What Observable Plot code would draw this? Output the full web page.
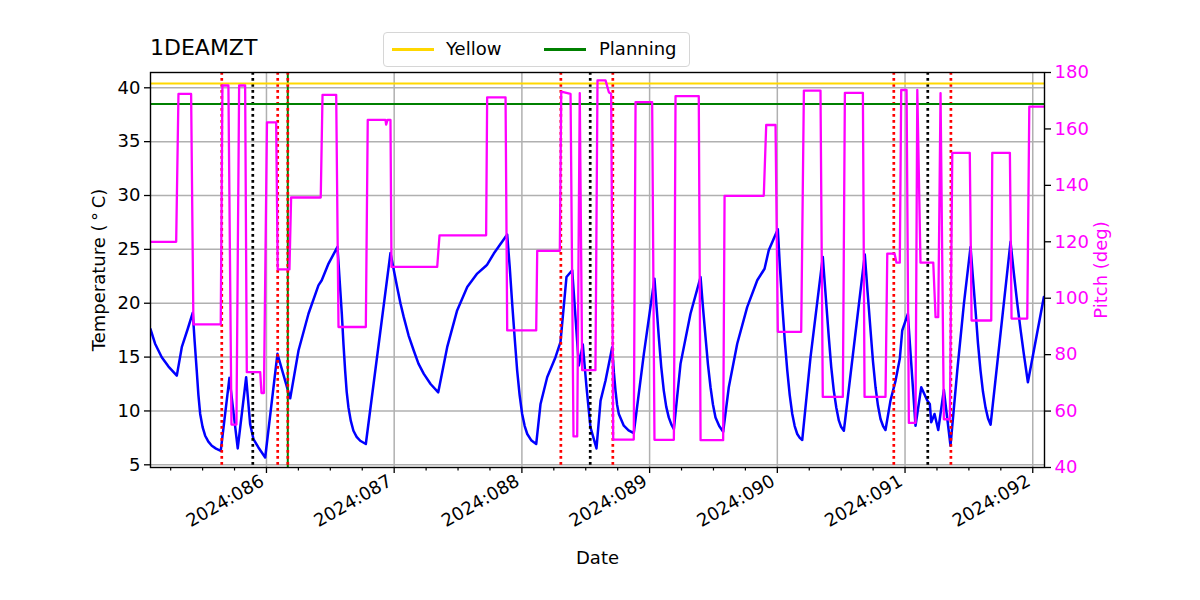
<!DOCTYPE html>
<html><head><meta charset="utf-8">
<script src="https://cdn.jsdelivr.net/npm/d3@7"></script>
<script src="https://cdn.jsdelivr.net/npm/@observablehq/plot@0.6"></script>
<style>
body{margin:0;background:#fff;font-family:"DejaVu Sans",sans-serif;}
#wrap{position:relative;width:1200px;height:600px;overflow:hidden;}
#title{position:absolute;left:150px;top:37px;font-size:22px;line-height:1;color:#000;}
#legend{position:absolute;left:383px;top:32px;width:305px;height:33px;border:1px solid #d6d6d6;border-radius:4px;background:#fff;font-size:18px;}
.sw{position:absolute;top:15px;width:42px;height:2.5px;}
.lt{position:absolute;top:5px;line-height:1.2;}
</style></head><body>
<div id="wrap"><div id="chart"></div>
<div id="title">1DEAMZT</div>
<div id="legend">
  <div class="sw" style="left:8px;background:#ffd700"></div><div class="lt" style="left:62px">Yellow</div>
  <div class="sw" style="left:160px;background:#008000"></div><div class="lt" style="left:215px">Planning</div>
</div>
</div>
<script>
// Temperature 1DEAMZT (deg C) vs day of year 2024
const tempTime = [85.092,85.128,85.180,85.233,85.298,85.337,85.384,85.423,85.438,85.454,85.467,85.481,85.500,85.520,85.545,85.572,85.605,85.642,85.710,85.775,85.841,85.872,85.898,85.937,85.990,86.086,86.186,86.251,86.329,86.407,86.433,86.486,86.556,86.590,86.603,86.616,86.628,86.642,86.660,86.681,86.706,86.734,86.778,86.971,87.023,87.049,87.075,87.113,87.153,87.190,87.232,87.285,87.345,87.415,87.493,87.572,87.650,87.715,87.728,87.780,87.885,87.905,87.924,87.944,87.963,87.982,88.002,88.022,88.042,88.075,88.112,88.146,88.198,88.263,88.302,88.349,88.394,88.446,88.477,88.506,88.537,88.584,88.616,88.655,88.707,88.720,88.733,88.745,88.759,88.798,88.835,88.876,88.955,89.038,89.055,89.072,89.091,89.111,89.130,89.150,89.170,89.190,89.242,89.320,89.399,89.418,89.438,89.457,89.477,89.496,89.516,89.545,89.576,89.620,89.686,89.764,89.843,89.900,89.933,90.004,90.020,90.038,90.058,90.078,90.097,90.117,90.136,90.156,90.176,90.195,90.260,90.356,90.380,90.403,90.422,90.442,90.462,90.482,90.500,90.521,90.685,90.707,90.730,90.749,90.769,90.788,90.808,90.828,90.847,90.886,90.926,90.959,90.978,91.022,91.082,91.127,91.174,91.194,91.205,91.231,91.260,91.304,91.356,91.409,91.461,91.513,91.532,91.552,91.571,91.591,91.610,91.630,91.650,91.670,91.826,91.852,91.879,91.905,91.930,91.962,92.087];
const tempValue = [17.6,16.24,14.99,14.12,13.28,15.92,17.63,19.12,16.4,13.75,11.5,9.72,8.5,7.7,7.15,6.77,6.5,6.3,13.07,6.52,13.13,8.79,7.39,6.61,5.68,15.3,11.17,15.61,19.02,21.66,22.13,23.68,25.23,19.02,16.2,13.75,11.8,10.33,9.1,8.16,7.6,7.23,6.93,24.67,21.5,20.0,18.71,17.0,15.61,14.4,13.44,12.5,11.73,15.92,19.33,21.5,22.75,23.43,23.59,24.61,26.38,23.3,19.96,16.7,13.75,11.5,9.72,8.6,7.86,7.25,6.93,10.65,13.13,14.99,16.38,22.43,23.06,14.22,16.17,12.2,8.47,6.52,10.96,12.82,15.92,13.6,11.89,10.6,9.72,8.63,8.2,7.95,15.3,22.28,19.6,16.85,14.1,11.89,10.4,9.4,8.75,8.32,14.37,19.02,22.43,19.6,16.85,14.3,12.2,10.6,9.4,8.6,8.07,12.2,16.24,19.64,22.13,23.2,24.92,26.87,23.4,19.96,16.6,13.75,11.5,9.72,8.6,7.86,7.5,7.3,14.99,24.3,20.5,16.85,14.1,11.89,10.3,9.1,8.5,8.16,24.52,21.0,17.47,14.6,12.2,10.5,9.25,8.6,8.23,10.96,12.82,14.84,17.47,19.02,8.63,12.2,10.96,10.65,8.94,9.72,8.23,11.95,6.77,13.75,19.96,25.23,22.3,19.33,16.3,13.75,11.8,10.33,9.3,8.72,25.7,22.8,19.96,17.5,15.3,12.66,20.57];

// Pitch (deg) vs day of year 2024
const pitchTime = [85.092,85.293,85.311,85.410,85.428,85.642,85.655,85.702,85.726,85.765,85.786,85.833,85.846,85.951,85.961,85.980,86.004,86.076,86.088,86.180,86.193,86.425,86.439,86.546,86.564,86.778,86.793,86.932,86.937,86.948,86.971,86.979,87.337,87.355,87.720,87.728,87.872,87.885,88.112,88.120,88.297,88.308,88.381,88.404,88.433,88.453,88.472,88.576,88.592,88.655,88.681,88.699,88.715,88.876,88.890,89.020,89.038,89.190,89.203,89.385,89.399,89.576,89.587,89.894,89.913,89.986,90.004,90.187,90.208,90.338,90.356,90.513,90.529,90.670,90.683,90.847,90.861,90.918,90.933,90.959,90.970,91.012,91.030,91.082,91.096,91.121,91.221,91.239,91.260,91.278,91.304,91.351,91.370,91.507,91.521,91.675,91.683,91.821,91.834,91.957,91.973,92.092];
const pitchValue = [120,120,172.4,172.4,90.7,90.7,175.4,175.4,55.2,55.2,175.4,175.4,73.8,73.8,66.4,66.4,162.3,162.3,110.2,110.2,135.7,135.7,172.1,172.1,89.8,89.8,163.2,163.2,161.5,163.2,163.2,111.1,111.1,122.3,122.3,171.2,171.2,88.6,88.6,116.8,116.8,173.2,172.4,51,51,172.7,74.5,74.5,177.2,177.2,173,172.4,49.9,49.9,169.5,169.5,49.8,49.8,171.6,171.6,49.7,49.7,136.3,136.3,161.4,161.4,88.1,88.1,173.6,173.6,65,65,172.8,172.8,65,65,115.8,115.8,112.6,112.6,173.8,173.8,55.8,55.8,173.8,112.6,112.6,93.3,93.3,172.7,57.1,57.1,151.5,151.5,92.1,92.1,151.5,151.5,92.8,92.8,167.9,167.9];

const redTimes = [85.650, 86.088, 86.167, 88.305, 88.712, 90.912, 91.359];
const blackTimes = [85.893, 88.535, 91.178];
const greenTimes = [86.167];
const limitNames = ["Yellow", "Planning"];
const limitValues = [40.4, 38.5];

const dayTicks = [86, 87, 88, 89, 90, 91, 92];
const tempTicks = [5, 10, 15, 20, 25, 30, 35, 40];
const pitchTicks = [40, 60, 80, 100, 120, 140, 160, 180];

const xDomain = [85.092, 92.092];
const yDomain = [4.75, 41.42];
const pDomain = [40, 180];
const pToY = p => yDomain[0] + (p - pDomain[0]) / (pDomain[1] - pDomain[0]) * (yDomain[1] - yDomain[0]);
const yToP = y => pDomain[0] + (y - yDomain[0]) / (yDomain[1] - yDomain[0]) * (pDomain[1] - pDomain[0]);

const minorTicks = d3.range(85.25, 92.1, 0.25).filter(v => Math.abs(v - Math.round(v)) > 1e-6);
const tIdx = d3.range(tempTime.length);
const pIdx = d3.range(pitchTime.length);
const limitColors = ["#ffd700", "#008000"];

const chart = Plot.plot({
  width: 1200, height: 600,
  marginLeft: 150, marginRight: 156, marginTop: 72, marginBottom: 133,
  style: {fontFamily: "DejaVu Sans", fontSize: "18px", background: "#fff", color: "#000"},
  x: {type: "linear", domain: xDomain, axis: null},
  y: {type: "linear", domain: yDomain, axis: null},
  marks: [
    Plot.gridX(dayTicks, {stroke: "#b0b0b0", strokeOpacity: 1, strokeWidth: 1.5}),
    Plot.gridY(tempTicks, {stroke: "#b0b0b0", strokeOpacity: 1, strokeWidth: 1.5}),
    Plot.line(tIdx, {x: i => tempTime[i], y: i => tempValue[i], stroke: "#0000ff", strokeWidth: 2.5, strokeLinejoin: "round", clip: true}),
    Plot.ruleX(greenTimes, {stroke: "#008000", strokeWidth: 2}),
    Plot.ruleX(redTimes, {stroke: "#ff0000", strokeWidth: 2.7, strokeDasharray: "2.7,3.3"}),
    Plot.ruleX(blackTimes, {stroke: "#000000", strokeWidth: 2.7, strokeDasharray: "2.7,3.3"}),
    Plot.ruleY(limitValues, {stroke: (d, i) => limitColors[i], strokeWidth: 2}),
    Plot.line(pIdx, {x: i => pitchTime[i], y: i => pToY(pitchValue[i]), stroke: "#ff00ff", strokeWidth: 2.3, clip: true}),
    Plot.frame({stroke: "#000", strokeWidth: 1.4}),
    Plot.axisX({ticks: minorTicks, tickSize: 3.5, text: null, label: null, strokeWidth: 1.2}),
    Plot.axisX({ticks: dayTicks, tickSize: 6, strokeWidth: 1.3, text: null, label: null}),
    Plot.axisX({ticks: dayTicks, tickSize: 0, tickPadding: 12, dx: -4, stroke: "none", tickRotate: -30,
      tickFormat: d => "2024:" + String(d).padStart(3, "0"), fontSize: 18,
      label: "Date", labelAnchor: "center", labelArrow: "none", labelOffset: 96}),
    Plot.axisY({ticks: tempTicks, tickSize: 6, tickPadding: 4, strokeWidth: 1.3, fontSize: 18,
      label: "Temperature (\u2009\u00b0\u2009C)", labelAnchor: "center", labelArrow: "none", labelOffset: 58}),
    Plot.axisY({anchor: "right", ticks: pitchTicks.map(pToY), tickSize: 6, strokeWidth: 1.3, text: null, label: null}),
    Plot.axisY({anchor: "right", ticks: pitchTicks.map(pToY), tickSize: 6, tickPadding: 4, stroke: "none", fill: "#ff00ff",
      tickFormat: d => String(Math.round(yToP(d))), fontSize: 18,
      label: "Pitch (deg)", labelAnchor: "center", labelArrow: "none", labelOffset: 62})
  ]
});
document.getElementById("chart").appendChild(chart);
</script>
</body></html>
